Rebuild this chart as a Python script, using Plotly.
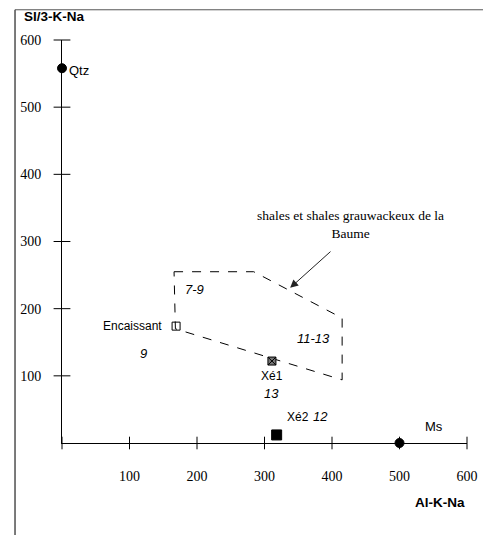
import plotly.graph_objects as go

# ---- data ----
point_names = ["Qtz", "Ms", "Encaissant", "Xé1", "Xé2"]
point_x = [0, 500, 169, 311, 318]
point_y = [558, 0, 174, 122, 12]

field_x = [166, 284, 415, 415, 168, 166]
field_y = [255, 255, 186, 94, 170, 255]

tick_vals = [100, 200, 300, 400, 500, 600]
x_title = "Al-K-Na"
y_title = "SI/3-K-Na"
field_label = "shales et shales grauwackeux de la<br>Baume"

fig = go.Figure()

# dashed field
fig.add_trace(go.Scatter(x=field_x, y=field_y, mode="lines",
                         line=dict(color="black", width=1, dash="dash"),
                         hoverinfo="skip", showlegend=False))

# tick marks crossing the axes
fig.add_trace(go.Scatter(x=[0] + tick_vals, y=[0] * 7, mode="markers",
                         marker=dict(symbol="line-ns", size=9,
                                     line=dict(color="black", width=1)),
                         showlegend=False, hoverinfo="skip", cliponaxis=False))
fig.add_trace(go.Scatter(x=[0] * 6, y=tick_vals, mode="markers",
                         marker=dict(symbol="line-ew", size=12,
                                     line=dict(color="black", width=1)),
                         showlegend=False, hoverinfo="skip", cliponaxis=False))

# points
symbols = ["circle", "circle", "square-open", "square-x", "square"]
colors = ["black", "black", "black", "#777777", "black"]
sizes = [9, 9, 8, 8, 10]
for n, x, y, s, c, sz in zip(point_names, point_x, point_y, symbols, colors, sizes):
    fig.add_trace(go.Scatter(x=[x], y=[y], mode="markers", name=n,
                             marker=dict(symbol=s, size=sz, color=c,
                                         line=dict(color="black", width=1)),
                             showlegend=False, cliponaxis=False))

sans = "Liberation Sans, Arial, sans-serif"
serif = "Liberation Serif, Times New Roman, serif"

labels = [
    ("Qtz", 7, 554, "left", False, 13),
    ("Encaissant", 151, 174, "right", False, 12),
    ("9", 120, 134, "center", True, 13),
    ("7-9", 196, 229, "center", True, 13),
    ("11-13", 372, 156, "center", True, 13),
    ("Xé1", 311, 100, "center", False, 12),
    ("13", 310, 74, "center", True, 13),
    ("Xé2", 350, 39, "center", False, 12),
    ("12", 383, 39, "center", True, 13),
    ("Ms", 551, 24, "center", False, 13),
]
for t, x, y, anc, it, fs in labels:
    fig.add_annotation(x=x, y=y, text=(f"<i>{t}</i>" if it else t), showarrow=False,
                       xanchor=anc, yanchor="middle",
                       font=dict(family=sans, size=fs, color="black"))

fig.add_annotation(x=427, y=326, text=field_label, showarrow=False,
                   font=dict(family=serif, size=13.5, color="black"))

# arrow
fig.add_annotation(x=338, y=231, ax=400, ay=287, axref="x", ayref="y",
                   xref="x", yref="y", text="", showarrow=True,
                   arrowhead=2, arrowsize=1.6, arrowwidth=1, arrowcolor="#222")

# axis titles
fig.add_annotation(x=-0.10, y=1.035, xref="paper", yref="paper", text=f"<b>{y_title}</b>",
                   showarrow=False, xanchor="left", yanchor="bottom",
                   font=dict(family=sans, size=13.5, color="black"))
fig.add_annotation(x=1.0, y=-0.125, xref="paper", yref="paper", text=f"<b>{x_title}</b>",
                   showarrow=False, xanchor="right", yanchor="top",
                   font=dict(family=sans, size=13.5, color="black"))

# page border lines (scan frame)
fig.add_shape(type="line", xref="paper", yref="paper", x0=-0.116, x1=-0.116, y0=1.075, y1=-0.3,
              line=dict(color="#333", width=1.3))
fig.add_shape(type="line", xref="paper", yref="paper", x0=-0.116, x1=1.05, y0=1.075, y1=1.075,
              line=dict(color="#555", width=1))

fig.update_xaxes(range=[0, 600], tickvals=tick_vals, ticks="", showline=True,
                 linecolor="black", linewidth=1, showgrid=False, zeroline=False,
                 ticklabelstandoff=20, automargin=False,
                 tickfont=dict(family=serif, size=14, color="black"))
fig.update_yaxes(range=[0, 600], tickvals=tick_vals, ticks="", showline=True,
                 linecolor="black", linewidth=1, showgrid=False, zeroline=False,
                 ticklabelstandoff=17, automargin=False,
                 tickfont=dict(family=serif, size=14, color="black"))

fig.update_layout(width=483, height=535, margin=dict(l=62, r=16, t=40, b=92),
                  plot_bgcolor="white", paper_bgcolor="white")

fig.write_html("out.html", config={"displayModeBar": False},
               post_script="document.body.style.margin='0';document.body.style.overflow='hidden';")
